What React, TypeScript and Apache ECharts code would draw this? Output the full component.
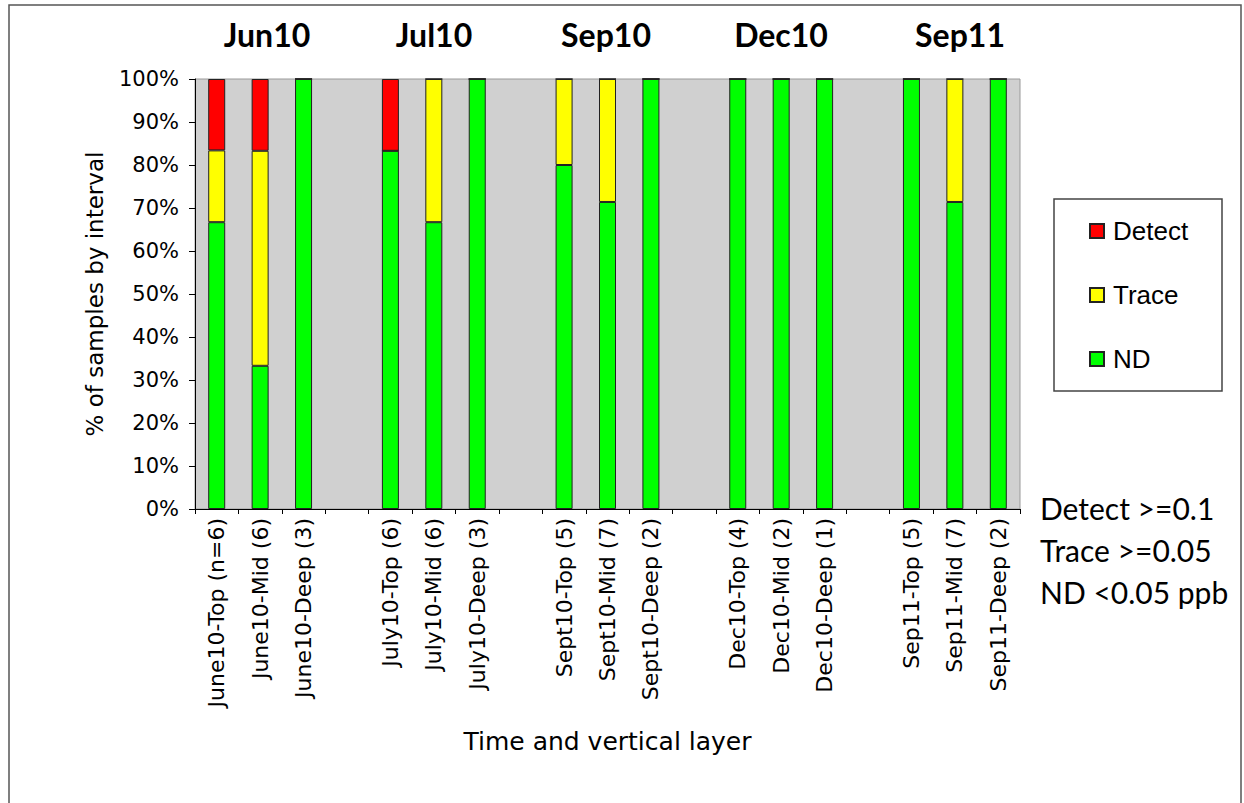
import React, { useEffect, useRef } from "react";
import * as echarts from "echarts";

const categories = [
  "June10-Top (n=6)", "June10-Mid (6)", "June10-Deep (3)", "",
  "July10-Top (6)", "July10-Mid (6)", "July10-Deep (3)", "",
  "Sept10-Top (5)", "Sept10-Mid (7)", "Sept10-Deep (2)", "",
  "Dec10-Top (4)", "Dec10-Mid (2)", "Dec10-Deep (1)", "",
  "Sep11-Top (5)", "Sep11-Mid (7)", "Sep11-Deep (2)",
];

const ndValues = [66.7, 33.3, 100, null, 83.3, 66.7, 100, null, 80, 71.4, 100, null, 100, 100, 100, null, 100, 71.4, 100];
const traceValues = [16.7, 50, 0, null, 0, 33.3, 0, null, 20, 28.6, 0, null, 0, 0, 0, null, 0, 28.6, 0];
const detectValues = [16.6, 16.7, 0, null, 16.7, 0, 0, null, 0, 0, 0, null, 0, 0, 0, null, 0, 0, 0];

const groupTitles = ["Jun10", "Jul10", "Sep10", "Dec10", "Sep11"];
const thresholdNotes = ["Detect >=0.1", "Trace >=0.05", "ND <0.05 ppb"];

const titleX = [267, 434, 606, 781, 960];
const noteY = [508, 550, 592];

export default function App() {
  const ref = useRef<HTMLDivElement>(null);
  useEffect(() => {
    if (!ref.current) return;
    const chart = echarts.init(ref.current, null, { renderer: "svg" });
    const axisFont = "DejaVu Sans";
    const barBorder = { borderColor: "#222", borderWidth: 1 };
    const graphics: any[] = [
      {
        type: "rect",
        shape: { x: 9, y: 5, width: 1232, height: 820 },
        style: { fill: "transparent", stroke: "#555", lineWidth: 1.5 },
        silent: true,
        z: 0,
      },
      {
        type: "rect",
        shape: { x: 1054, y: 199, width: 168, height: 192 },
        style: { fill: "#fff", stroke: "#444", lineWidth: 1.5 },
        silent: true,
        z: 0,
      },
    ];
    groupTitles.forEach((t, i) => {
      graphics.push({
        type: "text",
        x: titleX[i],
        y: 34,
        style: {
          text: t,
          fontFamily: "Lato",
          fontWeight: "bold",
          fontSize: 32,
          fill: "#000",
          align: "center",
          verticalAlign: "middle",
        },
      });
    });
    thresholdNotes.forEach((t, i) => {
      graphics.push({
        type: "text",
        x: 1040,
        y: noteY[i],
        style: {
          text: t,
          fontFamily: "Lato",
          fontSize: 30,
          fill: "#000",
          align: "left",
          verticalAlign: "middle",
        },
      });
    });

    chart.setOption({
      animation: false,
      backgroundColor: "#fff",
      grid: {
        left: 195,
        right: 224,
        top: 79,
        bottom: 294,
        show: true,
        backgroundColor: "#D0D0D0",
        borderColor: "#9a9a9a",
        borderWidth: 1,
        containLabel: false,
      },
      legend: {
        data: ["Detect", "Trace", "ND"],
        orient: "vertical",
        left: 1089,
        top: 218,
        padding: 0,
        itemWidth: 14,
        itemHeight: 14,
        itemGap: 38,
        icon: "rect",
        z: 10,
        textStyle: {
          fontFamily: "Liberation Sans",
          fontSize: 26,
          color: "#000",
          lineHeight: 26,
          padding: [0, 0, 0, 4],
        },
      },
      xAxis: {
        type: "category",
        data: categories,
        axisLine: { show: true, lineStyle: { color: "#000", width: 1 } },
        axisTick: { show: true, length: 5, interval: 0, lineStyle: { color: "#000" } },
        axisLabel: {
          interval: 0,
          rotate: 90,
          margin: 9,
          fontFamily: axisFont,
          fontSize: 22,
          color: "#000",
        },
        name: "Time and vertical layer",
        nameLocation: "middle",
        nameGap: 220,
        nameTextStyle: { fontFamily: axisFont, fontSize: 25, color: "#000" },
      },
      yAxis: {
        type: "value",
        min: 0,
        max: 100,
        interval: 10,
        axisLine: { show: true, lineStyle: { color: "#000", width: 1 } },
        axisTick: { show: true, length: 6, lineStyle: { color: "#000" } },
        splitLine: { show: false },
        axisLabel: {
          formatter: "{value}%",
          margin: 16,
          fontFamily: axisFont,
          fontSize: 21,
          color: "#000",
        },
        name: "% of samples by interval",
        nameLocation: "middle",
        nameGap: 89,
        nameTextStyle: { fontFamily: axisFont, fontSize: 23, color: "#000" },
      },
      series: [
        {
          name: "ND",
          type: "bar",
          stack: "total",
          barWidth: 17,
          data: ndValues,
          itemStyle: { color: "#00FF00", ...barBorder },
        },
        {
          name: "Trace",
          type: "bar",
          stack: "total",
          barWidth: 17,
          data: traceValues,
          itemStyle: { color: "#FFFF00", ...barBorder },
        },
        {
          name: "Detect",
          type: "bar",
          stack: "total",
          barWidth: 17,
          data: detectValues,
          itemStyle: { color: "#FF0000", ...barBorder },
        },
      ],
      graphic: graphics,
    });
    return () => chart.dispose();
  }, []);
  return (
    <div
      ref={ref}
      style={{ position: "absolute", left: 0, top: 0, width: 1244, height: 803 }}
    />
  );
}
